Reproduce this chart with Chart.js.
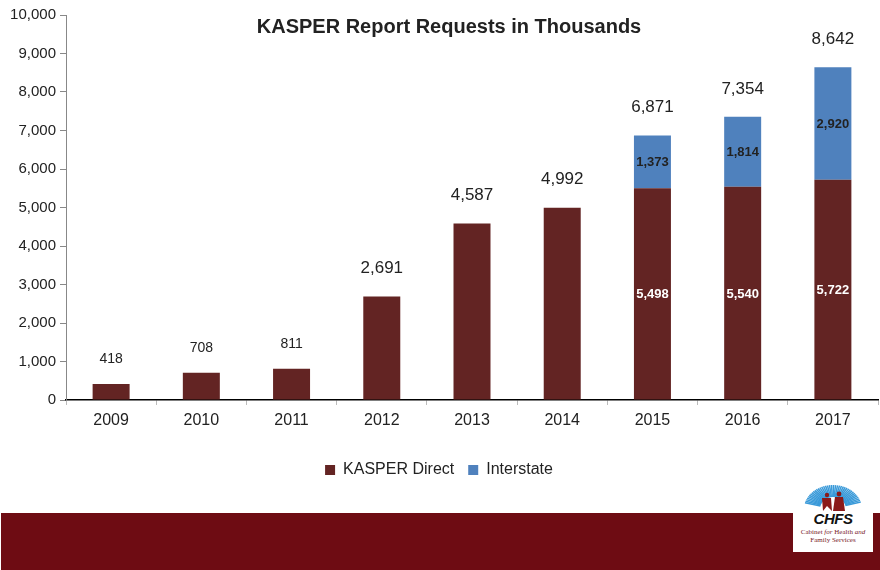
<!DOCTYPE html>
<html>
<head>
<meta charset="utf-8">
<script src="https://cdn.jsdelivr.net/npm/chart.js@4.4.1/dist/chart.umd.min.js"></script>
<style>
  html, body { margin: 0; padding: 0; background: #fff; }
  #wrap { position: relative; width: 880px; height: 570px; overflow: hidden; font-family: "Liberation Sans", Arial, sans-serif; }
  #band { position: absolute; left: 1px; top: 513px; width: 879px; height: 57px; background: #6e0c13; }
  #logo { position: absolute; left: 793px; top: 480px; width: 80px; height: 72px; background: #fff; text-align: center; }
  #logo .chfs { position: absolute; left: 0; top: 30px; width: 80px; font: italic bold 15px "Liberation Sans", Arial, sans-serif; color: #111; letter-spacing: -0.5px; }
  #logo .sub { position: absolute; left: 0; top: 48px; width: 80px; font: 7px "Liberation Serif", "Times New Roman", serif; color: #7a1b2a; line-height: 8px; }
</style>
</head>
<body>
<div id="wrap">
  <canvas id="kasperChart" width="880" height="512"></canvas>
  <div id="band"></div>
  <div id="logo">
    <svg id="sun" width="80" height="32" style="position:absolute;left:0;top:0"></svg>
    <div class="chfs">CHFS</div>
    <div class="sub">Cabinet <i>for</i> Health <i>and</i><br>Family Services</div>
  </div>
</div>
<script>
// Chart values
var years = ['2009','2010','2011','2012','2013','2014','2015','2016','2017'];
var kasperDirect = [418, 708, 811, 2691, 4587, 4992, 5498, 5540, 5722];
var interstate = [null, null, null, null, null, null, 1373, 1814, 2920];
var totals = [418, 708, 811, 2691, 4587, 4992, 6871, 7354, 8642];
var yTicks = [0, 1000, 2000, 3000, 4000, 5000, 6000, 7000, 8000, 9000, 10000];

var fmt = function(v){ return v.toLocaleString('en-US'); };
var FONT = '"Liberation Sans", Arial, sans-serif';

// logo sunburst (decoration only)
(function(){
  var svg = document.getElementById('sun');
  var s = '';
  for (var a = 165; a >= 15; a -= 4) {
    var r = a * Math.PI / 180;
    var cx = 40, cy = 29;
    s += '<line x1="' + (cx + 13 * Math.cos(r)) + '" y1="' + (cy - 12 * Math.sin(r)) +
      '" x2="' + (cx + 29 * Math.cos(r)) + '" y2="' + (cy - 24 * Math.sin(r)) +
      '" stroke="#3a9ad9" stroke-width="1.5"/>';
  }
  s += '<circle cx="34" cy="15" r="2.2" fill="#8b1a1a"/><path d="M29 18 L38 18 L39 31 L34 26 L30 31 Z" fill="#8b1a1a"/>';
  s += '<circle cx="46" cy="14" r="2.4" fill="#8b1a1a"/><path d="M42 17 L50 17 L52 31 L40 31 Z" fill="#8b1a1a"/>';
  svg.innerHTML = s;
})();

var labelPlugin = {
  id: 'kasperLabels',
  afterDatasetsDraw: function(chart){
    var ctx = chart.ctx;
    var yScale = chart.scales.y;
    ctx.save();
    ctx.textAlign = 'center';
    ctx.textBaseline = 'middle';
    // segment labels for stacked years
    chart.data.datasets.forEach(function(ds, di){
      var meta = chart.getDatasetMeta(di);
      meta.data.forEach(function(bar, i){
        if (interstate[i] == null || ds.data[i] == null) return;
        var mid = (bar.y + bar.base) / 2;
        ctx.font = 'bold 13px ' + FONT;
        ctx.fillStyle = di === 0 ? '#ffffff' : '#222222';
        ctx.fillText(fmt(ds.data[i]), bar.x, mid + 1);
      });
    });
    // totals above the bars
    var meta0 = chart.getDatasetMeta(0);
    totals.forEach(function(t, i){
      var x = meta0.data[i].x;
      var top = yScale.getPixelForValue(t);
      var small = t < 1000;
      ctx.font = (small ? '14px ' : '17px ') + FONT;
      ctx.fillStyle = '#222222';
      ctx.fillText(fmt(t), x, top - (small ? 25 : 28));
    });
    // title
    ctx.font = 'bold 20px ' + FONT;
    ctx.fillStyle = '#222222';
    ctx.fillText('KASPER Report Requests in Thousands', 449, 27);
    ctx.restore();
  }
};

var ctx = document.getElementById('kasperChart').getContext('2d');
var kasperChart = new Chart(ctx, {
  type: 'bar',
  data: {
    labels: years,
    datasets: [{
      label: 'KASPER Direct',
      data: kasperDirect,
      backgroundColor: '#632423'
    }, {
      label: 'Interstate',
      data: interstate,
      backgroundColor: '#4f81bd'
    }]
  },
  options: {
    responsive: false,
    animation: false,
    categoryPercentage: 1,
    barPercentage: 0.41,
    layout: { padding: { top: 15, right: 2, left: 0, bottom: 24 } },
    plugins: {
      title: { display: false },
      tooltip: { enabled: false },
      legend: {
        position: 'bottom',
        labels: {
          boxWidth: 10,
          boxHeight: 10,
          padding: 14,
          color: '#222',
          font: { family: FONT, size: 16 }
        }
      }
    },
    scales: {
      x: {
        stacked: true,
        border: { color: '#000', width: 1.5 },
        grid: { display: true, drawOnChartArea: false, offset: true, tickLength: 5, color: '#bbbbbb' },
        ticks: { color: '#222', font: { family: FONT, size: 16 }, padding: 6 },
        afterFit: function(s){ s.height = 48; }
      },
      y: {
        stacked: true,
        min: 0,
        max: 10000,
        border: { color: '#888888' },
        grid: { display: true, drawOnChartArea: false, tickLength: 6, color: '#888888' },
        afterBuildTicks: function(s){ s.ticks = yTicks.map(function(v){ return { value: v }; }); },
        ticks: {
          color: '#222',
          font: { family: FONT, size: 15 },
          padding: 4,
          callback: function(v){ return fmt(v); }
        },
        afterFit: function(s){ s.width = 66; }
      }
    }
  },
  plugins: [labelPlugin]
});
</script>
</body>
</html>
